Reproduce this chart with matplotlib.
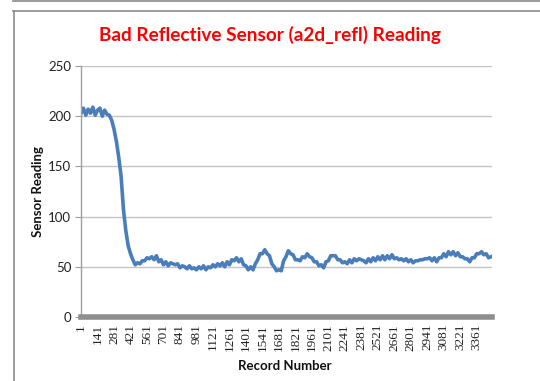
import matplotlib
matplotlib.use("Agg")
import matplotlib.pyplot as plt
from matplotlib.lines import Line2D

# Sensor readings sampled every 20 records
record_start = 1
record_step = 20
readings = [
    203, 208, 201, 207, 203, 209, 201, 206, 208, 200, 206, 202, 201,   # 1-241
    196, 187, 175, 159, 140, 107, 86, 71, 63, 57, 52, 54,              # 261-481
    53, 56, 56, 59, 58, 60, 57, 61, 55, 57, 52,                        # 501-701
    55, 51, 54, 53, 52, 53, 49, 51, 50, 48, 51, 48, 49,                # 721-961
    47, 50, 48, 51, 47, 50, 49,                                        # 981-1101
    52, 50, 53, 51, 54, 50, 55,                                        # 1121-1241
    52, 57, 56, 59, 55, 58, 52,                                        # 1261-1381
    51, 47, 50, 47,                                                    # 1401-1461
    53, 57, 63, 63, 67, 63, 61,                                        # 1481-1601
    53, 50, 46, 47, 46,                                                # 1621-1701
    56, 60, 66, 63, 62,                                                # 1721-1801
    57, 57,                                                            # 1821-1841
    56, 60, 59, 63, 60,                                                # 1861-1941
    59, 55, 55, 51, 52, 49,                                            # 1961-2061
    55, 56, 61, 61, 61,                                                # 2081-2161
    57, 57, 54, 55, 53,                                                # 2181-2261
    57, 54, 58, 56, 58, 57, 56, 54,                                    # 2281-2421
    58, 55, 59, 56, 60, 57, 61, 57, 61, 58, 62, 58,                    # 2441-2661
    59, 57, 58, 56, 58, 55, 57, 54, 56,                                # 2681-2841
    56, 57, 57, 58, 58, 59,                                            # 2861-2961
    56, 59, 55, 59,                                                    # 2981-3041
    59, 63, 60, 65, 62, 65, 61, 64, 60,                                # 3061-3221
    60, 58, 58, 55, 59,                                                # 3241-3321
    59, 63, 63, 65, 62,                                                # 3341-3421
    63, 59, 60,                                                        # 3441-3481
]
records = [record_start + i * record_step for i in range(len(readings))]

total_records = 3490
tick_records = list(range(1, 3362, 140))
y_ticks = [0, 50, 100, 150, 200, 250]

title_text = "Bad Reflective Sensor (a2d_refl) Reading"
x_label = "Record Number"
y_label = "Sensor Reading"

W, H = 540, 381
fig = plt.figure(figsize=(W / 100, H / 100), dpi=100)
fig.patch.set_facecolor("white")

# chart frame lines
gray = "#8a8a8a"
fig.add_artist(Line2D([13 / W, 1], [1 - 0.5 / H, 1 - 0.5 / H], color=gray, lw=1.2))
fig.add_artist(Line2D([13 / W, 1], [1 - 10.5 / H, 1 - 10.5 / H], color=gray, lw=1.2))
fig.add_artist(Line2D([13.5 / W, 13.5 / W], [0, 1 - 10.5 / H], color=gray, lw=1.2))

ax = fig.add_axes([81 / W, 1 - 317 / H, (492 - 81) / W, (317 - 66) / H])
ax.plot(records, readings, color="#4a7ebb", lw=2.6, solid_joinstyle="round")

ax.set_xlim(0.5, total_records + 0.5)
ax.set_ylim(0, 250)
ax.set_yticks(y_ticks)
ax.set_xticks(tick_records)
ax.set_xticklabels([str(t) for t in tick_records], rotation=90,
                   family="Liberation Serif", fontsize=9.5, color="#222222")
ax.set_yticklabels([str(t) for t in y_ticks], family="Lato", fontsize=9.5,
                   color="#222222")

for v in y_ticks[1:]:
    ax.axhline(v, color="#c4c4c4", lw=1.0, zorder=0)

for s in ["top", "right"]:
    ax.spines[s].set_visible(False)
ax.spines["left"].set_color("#a0a0a0")
ax.spines["left"].set_linewidth(1.0)
ax.spines["bottom"].set_color("#8e8e8e")
ax.spines["bottom"].set_linewidth(4)
ax.tick_params(axis="y", length=4, color="#a0a0a0", pad=3)
ax.tick_params(axis="x", length=0, pad=5)

fig.text(270 / W, 1 - 35 / H, title_text, color="#ff0000",
         fontsize=13.7, fontweight="bold", family="Lato", ha="center", va="center")
fig.text(285 / W, 1 - 366 / H, x_label, fontsize=9.5, fontweight="bold",
         family="Lato", ha="center", va="center", color="#111111")
fig.text(38 / W, 1 - 192 / H, y_label, fontsize=9.5, fontweight="bold",
         family="Lato", ha="center", va="center", rotation=90, color="#111111")

fig.savefig("out.png", dpi=100, facecolor="white")
